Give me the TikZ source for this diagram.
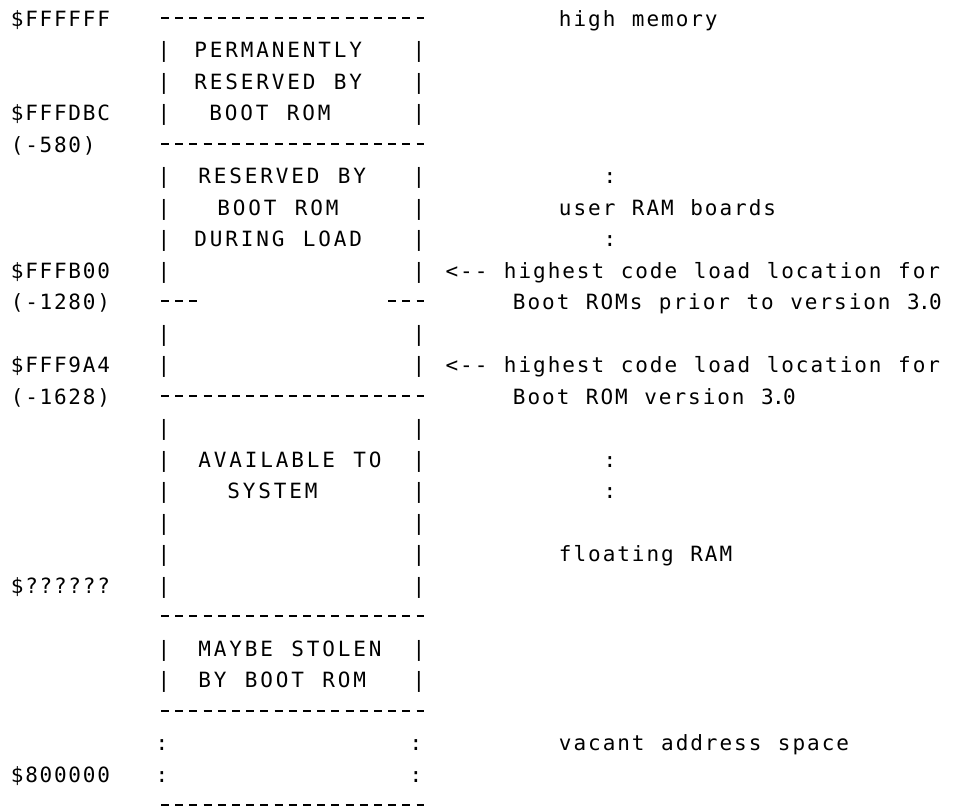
\documentclass[tikz,border=0pt]{standalone}
\usepackage{fontspec}
\setmonofont{DejaVu Sans Mono}
\ExplSyntaxOn
\dim_new:N \l_mem_pitch_dim
% \monorun{pitch}{text}: one character per cell of the given pitch,
% the full stop taking half a cell
\NewDocumentCommand\monorun{mm}
  {
    \dim_set:Nn \l_mem_pitch_dim {#1}
    \str_map_inline:nn {#2}
      {
        \str_if_eq:nnTF {##1} {.}
          { \makebox[.5\l_mem_pitch_dim][c]{##1} }
          { \makebox[\l_mem_pitch_dim][c]{##1} }
      }
  }
\ExplSyntaxOff
\tikzset{
  txt/.style={anchor=base west, inner sep=0pt, outer sep=0pt,
              font=\fontsize{15.75pt}{15.75pt}\ttfamily},
  % a row of typed dashes: 8 px strokes every 14.2 px
  rule/.style={line width=1.25pt, dash pattern=on 6pt off 4.65pt},
}
% pitches (pt): addresses, region texts, annotations
\def\padr{10.8pt}
\def\pbox{11.625pt}
\def\pnote{10.95pt}
% \memtext[pitch]{name}{x px}{row}{text}
\NewDocumentCommand\memtext{O{\pnote}mmmm}
  {\node[txt] (#2) at (#3,{26.45+31.5*(#4)}) {\monorun{#1}{#5}};}
% \memrule{name}{from x}{to x}{row}: dashed boundary between regions
\NewDocumentCommand\memrule{mmmm}
  {\coordinate (#1a) at (#2,{17.8+31.5*(#4)});
   \coordinate (#1b) at (#3,{17.8+31.5*(#4)});
   \draw[rule] (#1a) -- (#1b);}

\begin{document}
\begin{tikzpicture}[x=0.75pt,y=-0.75pt]
\useasboundingbox (0,0) rectangle (955,810);

% addresses and offsets
\memtext[\padr]{aTop}{10}{0}{$FFFFFF}
\memtext[\padr]{aDBC}{10}{3}{$FFFDBC}
\memtext[\padr]{oDBC}{10}{4}{(-580)}
\memtext[\padr]{aB00}{10}{8}{$FFFB00}
\memtext[\padr]{oB00}{10}{9}{(-1280)}
\memtext[\padr]{a9A4}{10}{11}{$FFF9A4}
\memtext[\padr]{o9A4}{10}{12}{(-1628)}
\memtext[\padr]{aFloat}{10}{18}{$??????}
\memtext[\padr]{aBase}{10}{24}{$800000}

% region boundaries
\foreach \r in {0,4,12,19,22,25} {\memrule{rule\r}{161}{424}{\r}}
\memrule{brkL}{161}{197.4}{9}
\memrule{brkR}{388.2}{424}{9}

% side walls
\foreach \r in {1,2,3,5,6,7,8,10,11,13,14,15,16,17,18,20,21}
  {\memtext{lbar\r}{156.7}{\r}{|}\memtext{rbar\r}{411.7}{\r}{|}}
\foreach \r in {23,24}
  {\memtext{ldot\r}{154.7}{\r}{:}\memtext{rdot\r}{408.7}{\r}{:}}

% region contents
\memtext[\pbox]{t1}{193}{1}{PERMANENTLY}
\memtext[\pbox]{t2}{193}{2}{RESERVED BY}
\memtext[\pbox]{t3}{208}{3}{BOOT ROM}
\memtext[\pbox]{t5}{197}{5}{RESERVED BY}
\memtext[\pbox]{t6}{216}{6}{BOOT ROM}
\memtext[\pbox]{t7}{193}{7}{DURING LOAD}
\memtext[\pbox]{t14}{197}{14}{AVAILABLE TO}
\memtext[\pbox]{t15}{226}{15}{SYSTEM}
\memtext[\pbox]{t20}{197}{20}{MAYBE STOLEN}
\memtext[\pbox]{t21}{197}{21}{BY BOOT ROM}

% annotations
\memtext{nHigh}{558}{0}{high memory}
\memtext{dUserA}{602.7}{5}{:}
\memtext{nUser}{558}{6}{user RAM boards}
\memtext{dUserB}{602.7}{7}{:}
\memtext{nOld}{444.6}{8}{<-- highest code load location for}
\memtext{nOldB}{512}{9}{Boot ROMs prior to version 3.0}
\memtext{nNew}{444.6}{11}{<-- highest code load location for}
\memtext{nNewB}{512}{12}{Boot ROM version 3.0}
\memtext{dFltA}{602.7}{14}{:}
\memtext{dFltB}{602.7}{15}{:}
\memtext{nFloat}{558}{17}{floating RAM}
\memtext{nVac}{558}{23}{vacant address space}
\end{tikzpicture}
\end{document}
